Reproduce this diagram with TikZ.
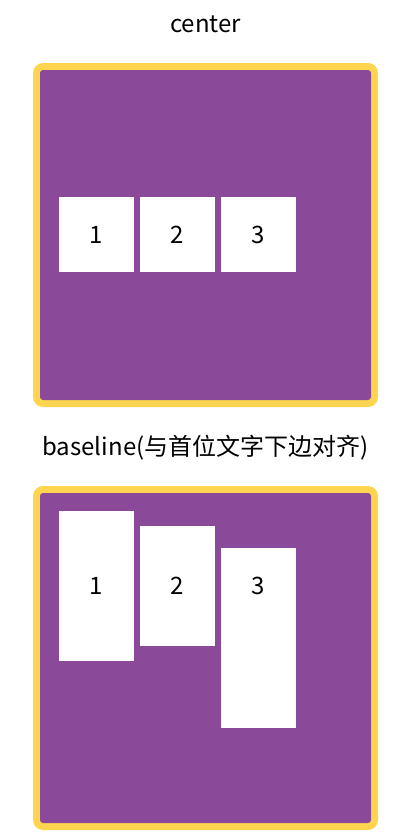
\documentclass[tikz,border=0pt]{standalone}
\usepackage{fontspec}
\setmainfont{Noto Sans CJK SC}
\definecolor{boxpurple}{HTML}{8A4999}
\definecolor{boxyellow}{HTML}{FFD54F}
\begin{document}
\begin{tikzpicture}[x=1pt,y=-1pt,
  outerbox/.style={fill=boxyellow,rounded corners=10pt},
  innerbox/.style={fill=boxpurple,rounded corners=3pt},
  item/.style={fill=white,draw=none,minimum width=75pt,inner sep=0pt,outer sep=0pt},
  num/.style={font=\fontsize{24}{28}\selectfont,inner sep=0pt},
  title/.style={font=\fontsize{24}{28}\selectfont,inner sep=0pt}]
\useasboundingbox (0,0) rectangle (408,838);
% titles
\node[title] (t1) at (205.5,24) {center};
\node[title] (t2) at (205.5,448) {baseline(与首位文字下边对齐)};
% container 1
\fill[outerbox] (33,63) rectangle (378,407);
\fill[innerbox] (40,70) rectangle (371,400);
\node[item,minimum height=75pt,anchor=north west] (a1) at (59,197) {};
\node[item,minimum height=75pt,anchor=north west] (a2) at (140,197) {};
\node[item,minimum height=75pt,anchor=north west] (a3) at (221,197) {};
\node[num] at (a1.center) {1};
\node[num] at (a2.center) {2};
\node[num] at (a3.center) {3};
% container 2
\fill[outerbox] (33,486) rectangle (378,830);
\fill[innerbox] (40,493) rectangle (371,823);
\node[item,minimum height=150pt,anchor=north west] (b1) at (59,511) {};
\node[item,minimum height=120pt,anchor=north west] (b2) at (140,526) {};
\node[item,minimum height=180pt,anchor=north west] (b3) at (221,548) {};
\node[num] at (96.5,586) {1};
\node[num] at (177.5,586) {2};
\node[num] at (258.5,586) {3};
\end{tikzpicture}
\end{document}
